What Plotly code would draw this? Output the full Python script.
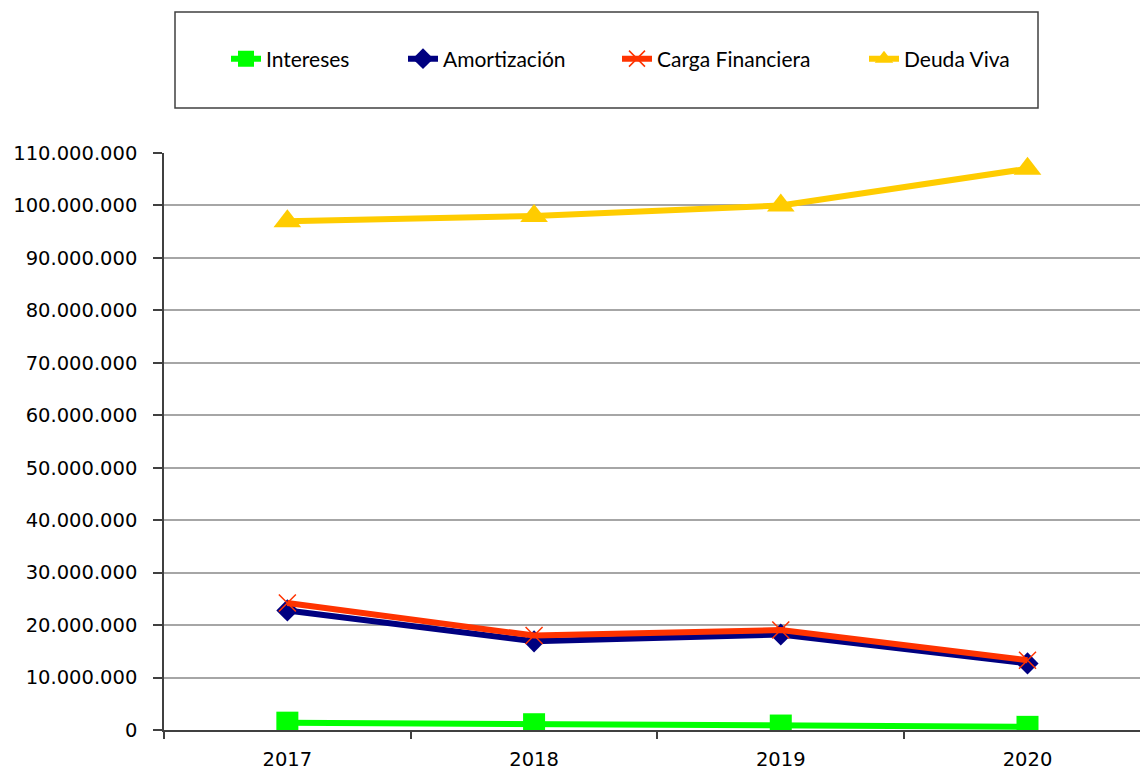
import plotly.graph_objects as go

years = ["2017", "2018", "2019", "2020"]
intereses = [1400000, 1100000, 850000, 600000]
amortizacion = [22800000, 16900000, 18200000, 12700000]
carga_financiera = [24200000, 18000000, 19050000, 13300000]
deuda_viva = [97000000, 98000000, 100000000, 107000000]
y_ticks = [0, 10000000, 20000000, 30000000, 40000000, 50000000, 60000000,
           70000000, 80000000, 90000000, 100000000, 110000000]

W, H = 1140, 771
L, R, T, B = 164, 0, 153, 41
pw = W - L - R
ph = H - T - B


def px_x(p):
    return (p - L) / pw


def px_y(p):
    return (H - B - p) / ph


fig = go.Figure()
fig.add_trace(go.Scatter(
    x=years, y=intereses, name="Intereses", mode="lines+markers",
    line=dict(color="#00FF00", width=6), legend="legend",
    marker=dict(symbol="square", size=22, color="#00FF00")))
fig.add_trace(go.Scatter(
    x=years, y=amortizacion, name="Amortización", mode="lines+markers",
    line=dict(color="#000080", width=6), legend="legend2",
    marker=dict(symbol="diamond", size=17, color="#000080")))
fig.add_trace(go.Scatter(
    x=years, y=carga_financiera, name="Carga Financiera", mode="lines+markers",
    line=dict(color="#FF3300", width=6), legend="legend3",
    marker=dict(symbol="x-thin", size=17, color="#FF3300",
                line=dict(color="#FF3300", width=1.5))))
fig.add_trace(go.Scatter(
    x=years, y=deuda_viva, name="Deuda Viva", mode="lines+markers",
    line=dict(color="#FFCC00", width=6), legend="legend4",
    marker=dict(symbol="triangle-up", size=24, color="#FFCC00")))

legend_font = dict(family="Lato", size=21, color="#000000")


def make_legend(text_left_px):
    return dict(
        orientation="h",
        x=px_x(text_left_px - 42), xanchor="left",
        y=px_y(59), yanchor="middle",
        font=legend_font,
        bgcolor="rgba(0,0,0,0)", borderwidth=0,
        itemwidth=30,
    )


fig.update_layout(
    width=W, height=H,
    margin=dict(l=L, r=R, t=T, b=B, pad=0, autoexpand=False),
    paper_bgcolor="white", plot_bgcolor="white",
    separators=",.",
    font=dict(family="DejaVu Sans", size=19.5, color="#000000"),
    showlegend=True,
    legend=make_legend(268),
    legend2=make_legend(445),
    legend3=make_legend(659),
    legend4=make_legend(906),
    shapes=[dict(
        type="rect", xref="paper", yref="paper",
        x0=px_x(175), x1=px_x(1038), y0=px_y(108), y1=px_y(12),
        line=dict(color="#404040", width=1.5), fillcolor="rgba(0,0,0,0)",
        layer="below")],
    xaxis=dict(
        type="category",
        range=[-0.5, 3.456],
        tickson="boundaries",
        ticks="outside", ticklen=7, tickwidth=1.5, tickcolor="#404040",
        showgrid=False,
        showline=True, linecolor="#404040", linewidth=1.5,
        ticklabelstandoff=11,
        tickfont=dict(family="DejaVu Sans", size=19.5, color="#000000"),
        zeroline=False, automargin=False,
    ),
    yaxis=dict(
        range=[0, 110000000],
        tickvals=y_ticks,
        tickformat=",d",
        ticks="outside", ticklen=9, tickwidth=1.5, tickcolor="#404040",
        showgrid=True, gridcolor="#A6A6A6", gridwidth=1.5,
        showline=True, linecolor="#404040", linewidth=1.5,
        ticklabelstandoff=12,
        tickfont=dict(family="DejaVu Sans", size=19.5, color="#000000"),
        zeroline=False, automargin=False,
    ),
)

fig.write_html(
    "out.html",
    config={"displayModeBar": False},
    post_script="document.body.style.margin='0px';document.body.style.overflow='hidden';",
)
